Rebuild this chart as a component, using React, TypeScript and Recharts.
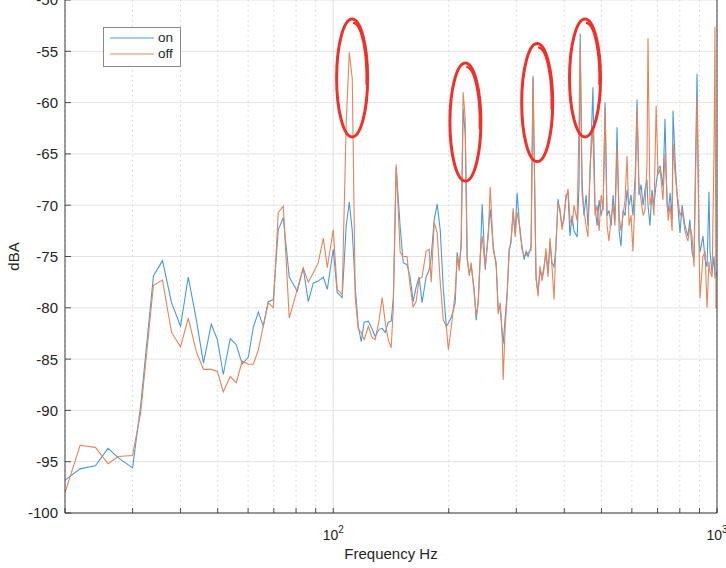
import React from 'react';
import { LineChart, Line, XAxis, YAxis, CartesianGrid, Legend, ReferenceLine, ReferenceDot } from 'recharts';

// spectrum bins (Hz)
const freqHz = [
  20.0, 21.9, 24.0, 25.9, 27.5, 30.0, 31.5, 34.0, 35.9, 37.9,
  40.0, 41.9, 44.0, 45.9, 48.1, 49.9, 51.7, 53.9, 55.9, 57.9,
  60.1, 61.9, 63.8, 65.7, 67.7, 69.8, 71.9, 74.1, 76.8, 80.6,
  83.5, 86.1, 88.7, 91.4, 94.2, 96.5, 100.0, 102.4, 105.5, 108.1,
  110.1, 112.1, 114.1, 116.2, 118.3, 120.4, 123.4, 126.3, 128.6, 131.7,
  134.1, 136.6, 139.1, 141.6, 143.4, 145.9, 149.4, 152.2, 155.7, 158.6,
  161.5, 164.4, 167.4, 170.4, 174.6, 177.8, 180.0, 183.3, 186.6, 190.0,
  193.6, 197.1, 199.5, 203.2, 207.9, 210.4, 212.9, 215.5, 218.0, 220.7,
  223.4, 226.1, 228.8, 233.0, 235.8, 238.7, 241.5, 244.4, 248.9, 253.4,
  256.5, 261.2, 265.9, 269.1, 272.3, 275.6, 277.2, 280.5, 283.9, 287.3,
  290.7, 294.3, 297.8, 301.4, 306.8, 310.5, 314.3, 318.1, 321.9, 327.7,
  331.6, 337.6, 341.6, 345.8, 349.9, 354.1, 358.4, 362.8, 367.1, 371.6,
  376.1, 380.6, 385.2, 389.8, 394.5, 399.3, 404.1, 409.0, 413.9, 419,
  424, 432, 437, 440, 445, 450, 456, 461, 467, 475,
  481, 487, 493, 499, 505, 511, 517, 523, 530, 536,
  542, 549, 556, 562, 569, 576, 583, 590, 597, 604,
  612, 619, 626, 634, 642, 649, 657, 661, 669, 677,
  685, 694, 702, 711, 723, 732, 741, 746, 755, 764,
  768, 778, 787, 801, 811, 825, 840, 850, 861, 871,
  887, 898, 903, 919, 931, 942, 953, 959, 971, 982,
  988, 994, 1000,
];

const onDb = [
  -96.8, -95.7, -95.4, -93.7, -94.6, -95.6, -89.5, -76.9, -75.4, -79.5,
  -81.8, -77.0, -81.2, -85.4, -81.6, -83.1, -86.5, -83.0, -83.6, -85.5,
  -84.8, -81.9, -80.4, -81.8, -79.4, -79.2, -72.4, -71.2, -77.0, -78.4,
  -76.1, -79.4, -77.6, -77.4, -77.0, -78.2, -74.3, -78.5, -79.0, -72.0,
  -69.7, -72.5, -78.0, -81.8, -83.3, -81.4, -81.3, -82.1, -82.8, -82.1,
  -82.0, -82.4, -81.4, -81.3, -79.0, -66.3, -72.1, -75.6, -75.8, -77.0,
  -79.4, -78.0, -77.0, -79.5, -77.0, -76.3, -75.0, -71.4, -69.9, -72.4,
  -78.2, -81.8, -81.5, -80.9, -79.5, -74.6, -76.0, -74.0, -60.6, -63.0,
  -75.3, -76.6, -76.0, -78.2, -81.2, -79.2, -75.3, -69.9, -76.3, -72.7,
  -70.4, -74.0, -76.0, -80.2, -79.9, -82.4, -83.5, -81.0, -78.5, -74.6,
  -73.3, -70.7, -72.7, -68.8, -72.7, -74.0, -75.3, -74.5, -75.0, -74.0,
  -57.4, -77.2, -78.5, -76.3, -77.0, -76.0, -74.6, -76.6, -73.6, -75.6,
  -76.0, -74.0, -69.4, -70.7, -72.0, -71.4, -69.0, -68.8, -73.0, -71.0,
  -72.5, -73.1, -68.0, -53.3, -67.7, -71.0, -69.0, -72.0, -67.0, -58.5,
  -70.0, -72.0, -69.5, -71.0, -70.0, -60.0, -71.0, -70.5, -72.0, -69.0,
  -71.5, -62.4, -72.5, -74.0, -70.5, -71.0, -68.5, -70.0, -69.0, -71.0,
  -67.2, -59.7, -69.0, -68.0, -70.0, -68.5, -67.5, -70.0, -72.0, -68.5,
  -70.0, -68.0, -66.5, -66.2, -68.2, -61.6, -70.0, -70.7, -68.8, -71.4,
  -60.8, -65.8, -69.0, -72.7, -70.0, -72.0, -73.0, -71.4, -74.6, -75.3,
  -57.2, -73.3, -74.6, -73.0, -75.3, -76.0, -68.7, -74.6, -76.6, -75.0,
  -77.0, -76.8, -76.5,
];

const offDb = [
  -98.0, -93.4, -93.6, -95.2, -94.5, -94.4, -90.2, -77.8, -77.3, -82.4,
  -83.8, -81.0, -84.3, -86.0, -86.0, -86.2, -88.2, -86.7, -87.3, -85.2,
  -85.5, -85.5, -84.1, -81.8, -79.5, -80.0, -70.7, -70.1, -81.0, -78.2,
  -76.1, -77.5, -76.6, -75.6, -73.2, -76.1, -72.4, -78.2, -78.7, -62.0,
  -55.1, -57.7, -79.0, -82.1, -82.4, -83.1, -81.8, -82.9, -83.1, -81.2,
  -79.0, -81.4, -83.1, -83.9, -79.9, -66.0, -74.6, -75.0, -75.0, -77.9,
  -79.9, -79.4, -77.2, -77.0, -74.5, -74.3, -77.5, -71.7, -72.7, -77.5,
  -81.2, -81.8, -84.1, -81.8, -78.5, -74.9, -76.4, -73.5, -59.0, -61.5,
  -75.0, -76.9, -75.6, -78.6, -80.8, -79.6, -75.0, -73.0, -76.0, -73.1,
  -68.2, -74.4, -75.6, -80.6, -79.5, -82.8, -87.0, -82.0, -78.9, -74.2,
  -73.7, -70.3, -73.1, -70.7, -72.3, -74.4, -74.9, -74.9, -74.6, -74.4,
  -57.6, -76.8, -78.9, -75.9, -77.4, -76.3, -74.2, -77.0, -73.2, -76.0,
  -79.2, -73.6, -69.8, -70.3, -72.4, -71.0, -69.4, -68.4, -71.4, -72.0,
  -70.0, -71.5, -62.0, -54.5, -69.0, -70.5, -72.0, -73.1, -66.0, -62.6,
  -71.0, -70.0, -72.5, -69.0, -70.5, -60.4, -72.0, -73.5, -71.0, -70.0,
  -72.0, -64.3, -71.0, -72.5, -71.0, -69.5, -65.2, -72.0, -71.0, -74.5,
  -69.0, -60.4, -68.0, -69.5, -71.0, -70.5, -66.0, -53.7, -70.0, -69.0,
  -71.0, -60.3, -67.0, -66.5, -69.5, -65.0, -69.0, -71.5, -70.0, -72.5,
  -64.0, -67.0, -68.8, -71.0, -70.5, -72.5, -73.5, -72.0, -73.0, -76.0,
  -59.4, -74.0, -79.1, -75.0, -74.5, -80.0, -75.5, -76.5, -77.0, -65.0,
  -52.6, -80.0, -80.0,
];

const yTicks = [-100, -95, -90, -85, -80, -75, -70, -65, -60, -55, -50];
const xTicks = [20, 30, 40, 50, 60, 70, 80, 90, 100, 200, 300, 400, 500, 600, 700, 800, 900, 1000];
const decadeLabels: Record<number, string> = { 100: '2', 1000: '3' };

// hand-drawn red marks around the harmonics
const markFreq = [112, 221, 340, 453];
const markDb = [-57.6, -61.9, -60.0, -57.6];

const data = freqHz.map((f, i) => ({ f, on: onDb[i], off: offDb[i] }));

const AXIS = '#262626';
const FONT = '"Liberation Sans", Arial, Helvetica, sans-serif';
const BLUE = '#4a9bdb';
const ORANGE = '#e8845a';

const LeftTick = (props: any) => {
  const { x, y, payload } = props;
  return (
    <g>
      <line x1={x} x2={x + 6} y1={y} y2={y} stroke={AXIS} strokeWidth={0.8} />
      <text x={x - 7} y={y} dy="0.36em" textAnchor="end" fontSize={15} fill={AXIS} fontFamily={FONT}>
        {payload.value}
      </text>
    </g>
  );
};

const RightTick = (props: any) => {
  const { x, y } = props;
  return <line x1={x - 6} x2={x} y1={y} y2={y} stroke={AXIS} strokeWidth={0.8} />;
};

const BottomTick = (props: any) => {
  const { x, y, payload } = props;
  const exp = decadeLabels[payload.value];
  return (
    <g>
      <line x1={x} x2={x} y1={y} y2={y - 5} stroke={AXIS} strokeWidth={0.8} />
      {exp && (
        <text x={x} y={y + 27} textAnchor="middle" fontSize={14} fill={AXIS} fontFamily={FONT}>
          10
          <tspan dy={-7} fontSize={10}>{exp}</tspan>
        </text>
      )}
    </g>
  );
};

const HandCircle = (props: any) => {
  const { cx, cy } = props;
  const rx = 15.5;
  const ry = 59;
  return (
    <g fill="none" stroke="#f0302a" strokeLinecap="round">
      <ellipse cx={cx} cy={cy} rx={rx} ry={ry} strokeWidth={3} />
      <path
        d={`M ${cx + 2} ${cy - ry + 4} A ${rx - 2} ${ry - 4} 0 0 1 ${cx + rx - 1} ${cy + 6}`}
        strokeWidth={2.5}
      />
    </g>
  );
};

const LegendBox = () => (
  <div
    style={{
      width: 76,
      height: 38,
      border: '1px solid #8a8a8a',
      background: '#fff',
      fontFamily: FONT,
      fontSize: 13.5,
      color: AXIS,
      position: 'relative',
    }}
  >
    {[
      { name: 'on', color: BLUE, top: 10 },
      { name: 'off', color: ORANGE, top: 26 },
    ].map((e) => (
      <div key={e.name} style={{ position: 'absolute', left: 6, top: e.top - 8, height: 16, display: 'flex', alignItems: 'center' }}>
        <svg width={44} height={16}>
          <line x1={0} x2={44} y1={8} y2={8} stroke={e.color} strokeWidth={1.2} />
        </svg>
        <span style={{ marginLeft: 4, lineHeight: '16px' }}>{e.name}</span>
      </div>
    ))}
  </div>
);

export default function App() {
  return (
    <div style={{ position: 'absolute', left: 0, top: 0, width: 726, height: 568, background: '#fff', fontFamily: FONT }}>
      <LineChart width={726} height={568} data={data} margin={{ top: 0, right: 0, bottom: 0, left: 0 }}>
        <CartesianGrid vertical={false} stroke="#e4e4e4" />
        <CartesianGrid horizontal={false} stroke="#d4d4d4" strokeDasharray="1.5 3.5" />
        <ReferenceLine x={100} stroke="#e4e4e4" />
        <XAxis
          dataKey="f"
          type="number"
          scale="log"
          domain={[20, 1000]}
          ticks={xTicks}
          interval={0}
          allowDataOverflow
          height={55}
          tickSize={0}
          tickMargin={0}
          tick={BottomTick}
          axisLine={{ stroke: AXIS, strokeWidth: 0.9 }}
          label={{ value: 'Frequency Hz', position: 'insideBottom', offset: 9, fontSize: 15, fill: AXIS, fontFamily: FONT }}
        />
        <YAxis
          type="number"
          domain={[-100, -50]}
          ticks={yTicks}
          interval={0}
          allowDataOverflow
          width={65}
          tickSize={0}
          tickMargin={0}
          tick={LeftTick}
          axisLine={{ stroke: AXIS, strokeWidth: 0.9 }}
          label={(p: any) => {
            const vb = p.viewBox || { x: 0, y: 0, height: 513 };
            return (
              <text
                transform={`translate(${vb.x + 19},${vb.y + vb.height / 2}) rotate(-90)`}
                textAnchor="middle"
                fontSize={15}
                fill={AXIS}
                fontFamily={FONT}
              >
                dBA
              </text>
            );
          }}
        />
        <YAxis
          yAxisId="right"
          orientation="right"
          type="number"
          domain={[-100, -50]}
          ticks={yTicks}
          interval={0}
          width={9}
          tickSize={0}
          tickMargin={0}
          tick={RightTick}
          axisLine={{ stroke: AXIS, strokeWidth: 0.9 }}
        />
        <Legend
          layout="vertical"
          align="center"
          verticalAlign="middle"
          content={LegendBox}
          wrapperStyle={{ left: 103, top: 27, width: 78, height: 40 }}
        />
        <Line dataKey="on" name="on" stroke={BLUE} strokeWidth={1.1} dot={false} isAnimationActive={false} />
        <Line dataKey="off" name="off" stroke={ORANGE} strokeWidth={1.1} dot={false} isAnimationActive={false} />
        {markFreq.map((f, i) => (
          <ReferenceDot key={f} x={f} y={markDb[i]} r={1} ifOverflow="visible" shape={HandCircle} />
        ))}
      </LineChart>
    </div>
  );
}
